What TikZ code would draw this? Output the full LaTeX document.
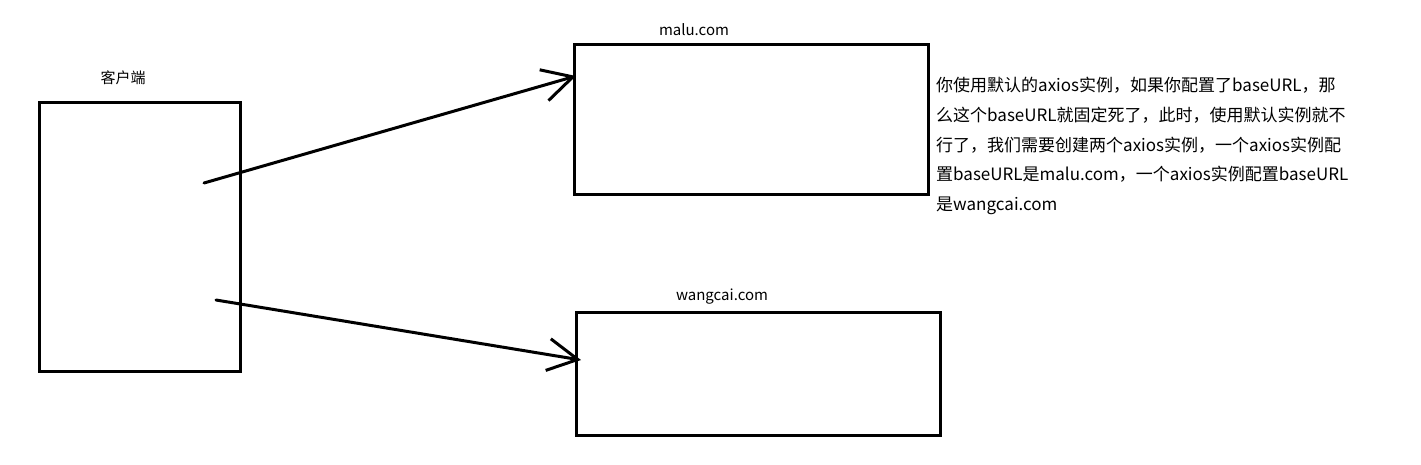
\documentclass[tikz,border=0pt]{standalone}
\usepackage{fontspec}
\setmainfont{Noto Sans CJK SC}
\usetikzlibrary{arrows.meta,positioning}

\tikzset{
  box/.style={draw,line width=3pt,inner sep=0pt,outer sep=0pt},
  lbl/.style={font=\fontsize{15}{18}\selectfont,inner sep=0pt},
  note/.style={font=\fontsize{17}{29.7}\selectfont,align=left,inner sep=0pt,anchor=north west}
}

\begin{document}
\begin{tikzpicture}[x=1pt,y=-1pt,>={Straight Barb[length=30pt,width=32pt]},line cap=round]
  \useasboundingbox (0,0) rectangle (1421,464);

  \node[box,minimum width=201pt,minimum height=269pt] (client)  at (139.5,237)   {};
  \node[box,minimum width=354pt,minimum height=150pt] (malu)    at (751.5,119.5) {};
  \node[box,minimum width=364pt,minimum height=123pt] (wangcai) at (758.5,374)   {};

  \node[lbl] (clientlbl)  at (123,78)  {客户端};
  \node[lbl] (malulbl)    at (694,30)  {malu.com};
  \node[lbl] (wangcailbl) at (722,297) {wangcai.com};

  \coordinate (out1) at (204,183);
  \coordinate (out2) at (216,300);

  \draw[->,line width=3pt] (out1) -- ([shift={(1.5,-43.5)}]malu.west);
  \draw[->,line width=3pt] (out2) -- ([shift={(4.5,-14)}]wangcai.west);

  \node[note] (text) at (936,77) {你使用默认的axios实例，如果你配置了baseURL，那\\
    么这个baseURL就固定死了，此时，使用默认实例就不\\
    行了，我们需要创建两个axios实例，一个axios实例配\\
    置baseURL是malu.com，一个axios实例配置baseURL\\
    是wangcai.com};
\end{tikzpicture}
\end{document}
